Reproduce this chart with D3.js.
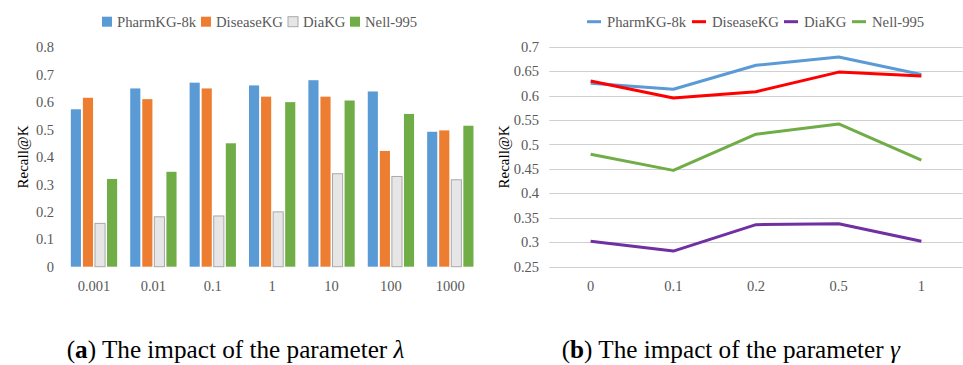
<!DOCTYPE html>
<html>
<head>
<meta charset="utf-8">
<script src="https://cdn.jsdelivr.net/npm/d3@7"></script>
<style>
  body { margin: 0; background: #fff; }
  svg { display: block; }
</style>
</head>
<body>
<div id="chart"></div>
<script>
// data
const seriesNames = ["PharmKG-8k", "DiseaseKG", "DiaKG", "Nell-995"];
const lambdaLabels = ["0.001", "0.01", "0.1", "1", "10", "100", "1000"];
const pharmLambda   = [0.574, 0.650, 0.671, 0.661, 0.680, 0.639, 0.492];
const diseaseLambda = [0.616, 0.611, 0.650, 0.620, 0.620, 0.422, 0.497];
const diaLambda     = [0.158, 0.182, 0.185, 0.200, 0.339, 0.329, 0.317];
const nellLambda    = [0.320, 0.346, 0.450, 0.600, 0.606, 0.557, 0.514];
const lambdaTicks = [0, 0.1, 0.2, 0.3, 0.4, 0.5, 0.6, 0.7, 0.8];

const gammaLabels = ["0", "0.1", "0.2", "0.5", "1"];
const pharmGamma   = [0.625, 0.613, 0.662, 0.679, 0.643];
const diseaseGamma = [0.630, 0.595, 0.608, 0.648, 0.640];
const diaGamma     = [0.302, 0.282, 0.336, 0.338, 0.302];
const nellGamma    = [0.480, 0.447, 0.521, 0.542, 0.468];
const gammaTicks = [0.25, 0.3, 0.35, 0.4, 0.45, 0.5, 0.55, 0.6, 0.65, 0.7];

const W = 963, H = 365;
const tickColor = "#595959";
const serif = "'Liberation Serif', 'Times New Roman', serif";
const barColors = ["#5b9bd5", "#ed7d31", "#e7e6e6", "#70ad47"];
const lineColors = ["#5b9bd5", "#ff0000", "#7030a0", "#70ad47"];

const svg = d3.select("#chart").append("svg")
  .attr("width", W).attr("height", H)
  .attr("font-family", serif)
  .style("font-family", serif);

// ---------- (a) bar chart ----------
const barData = [pharmLambda, diseaseLambda, diaLambda, nellLambda];
const ya = d3.scaleLinear().domain([0, 0.8]).range([266.7, 47.3]);
const xa = d3.scaleBand().domain(lambdaLabels).range([64.3, 480])
  .paddingInner(0.22).paddingOuter(0.11);
const xaInner = d3.scaleBand().domain(d3.range(4)).range([0, xa.bandwidth()])
  .paddingInner(0.16);

const ga = svg.append("g");

ga.selectAll(".ytick")
  .data(lambdaTicks)
  .enter().append("text")
  .attr("x", 54)
  .attr("y", d => ya(d))
  .attr("dy", "0.35em")
  .attr("text-anchor", "end")
  .style("font-size", "14.5px")
  .style("fill", tickColor)
  .text(d => d3.format("")(d));

const groups = ga.selectAll(".grp")
  .data(lambdaLabels)
  .enter().append("g")
  .attr("transform", d => "translate(" + xa(d) + ",0)");

groups.selectAll("rect")
  .data((d, i) => barData.map((s, k) => ({k: k, v: s[i]})))
  .enter().append("rect")
  .attr("x", d => xaInner(d.k))
  .attr("width", xaInner.bandwidth())
  .attr("y", d => ya(d.v))
  .attr("height", d => ya(0) - ya(d.v))
  .style("fill", d => barColors[d.k])
  .style("stroke", d => d.k === 2 ? "#a9a9a9" : "none")
  .style("stroke-width", 1);

ga.selectAll(".xtick")
  .data(lambdaLabels)
  .enter().append("text")
  .attr("x", d => xa(d) + xa.bandwidth() / 2)
  .attr("y", 285.7)
  .attr("dy", "0.35em")
  .attr("text-anchor", "middle")
  .style("font-size", "14.5px")
  .style("fill", tickColor)
  .text(d => d);

ga.append("text")
  .attr("transform", "translate(23,157) rotate(-90)")
  .attr("text-anchor", "middle")
  .attr("dy", "0.35em")
  .style("font-size", "15px")
  .style("fill", "#000")
  .text("Recall@K");

// legend a
const legAx = [102, 201, 288, 350];
const legA = ga.selectAll(".lega")
  .data(seriesNames)
  .enter().append("g")
  .attr("transform", (d, i) => "translate(" + legAx[i] + ",21.7)");
legA.append("rect")
  .attr("x", 0).attr("y", -5).attr("width", 10).attr("height", 10)
  .style("fill", (d, i) => barColors[i])
  .style("stroke", (d, i) => i === 2 ? "#a9a9a9" : "none");
legA.append("text")
  .attr("x", 15).attr("dy", "0.35em")
  .style("font-size", "14.7px")
  .style("fill", tickColor)
  .text(d => d);

// ---------- (b) line chart ----------
const lineData = [pharmGamma, diseaseGamma, diaGamma, nellGamma];
const yb = d3.scaleLinear().domain([0.25, 0.7]).range([266.7, 46.7]);
const xb = d3.scaleBand().domain(gammaLabels).range([549.3, 962.7]);

const gb = svg.append("g");

gb.selectAll(".grid")
  .data(gammaTicks)
  .enter().append("line")
  .attr("x1", 549.3).attr("x2", 962.7)
  .attr("y1", d => Math.round(yb(d)) + 0.5)
  .attr("y2", d => Math.round(yb(d)) + 0.5)
  .style("stroke", "#d0d0d0")
  .style("stroke-width", 1);

gb.selectAll(".ytick")
  .data(gammaTicks)
  .enter().append("text")
  .attr("x", 539)
  .attr("y", d => yb(d))
  .attr("dy", "0.35em")
  .attr("text-anchor", "end")
  .style("font-size", "14.5px")
  .style("fill", tickColor)
  .text(d => d3.format("")(d));

gb.selectAll(".xtick")
  .data(gammaLabels)
  .enter().append("text")
  .attr("x", d => xb(d) + xb.bandwidth() / 2)
  .attr("y", 285.7)
  .attr("dy", "0.35em")
  .attr("text-anchor", "middle")
  .style("font-size", "14.5px")
  .style("fill", tickColor)
  .text(d => d);

const line = d3.line()
  .x((d, i) => xb(gammaLabels[i]) + xb.bandwidth() / 2)
  .y(d => yb(d));

gb.selectAll(".series")
  .data(lineData)
  .enter().append("path")
  .attr("d", d => line(d))
  .style("fill", "none")
  .style("stroke", (d, i) => lineColors[i])
  .style("stroke-width", 3)
  .style("stroke-linejoin", "round");

gb.append("text")
  .attr("transform", "translate(504,157) rotate(-90)")
  .attr("text-anchor", "middle")
  .attr("dy", "0.35em")
  .style("font-size", "15px")
  .style("fill", "#000")
  .text("Recall@K");

// legend b
const legBx = [587, 692, 784, 852];
const legB = gb.selectAll(".legb")
  .data(seriesNames)
  .enter().append("g")
  .attr("transform", (d, i) => "translate(" + legBx[i] + ",21.7)");
legB.append("line")
  .attr("x1", 0).attr("x2", 14)
  .style("stroke", (d, i) => lineColors[i])
  .style("stroke-width", 3);
legB.append("text")
  .attr("x", 20).attr("dy", "0.35em")
  .style("font-size", "14.7px")
  .style("fill", tickColor)
  .text(d => d);

// ---------- captions ----------
const captions = [
  {x: 66.7, tag: "a", sym: "λ"},
  {x: 561.7, tag: "b", sym: "γ"}
];
captions.forEach(function (c) {
  const t = svg.append("text")
    .attr("x", c.x).attr("y", 358)
    .style("font-size", "25.2px")
    .style("fill", "#000");
  t.append("tspan").text("(");
  t.append("tspan").style("font-weight", "bold").text(c.tag);
  t.append("tspan").text(") The impact of the parameter ");
  t.append("tspan").style("font-style", "italic").text(c.sym);
});
</script>
</body>
</html>
